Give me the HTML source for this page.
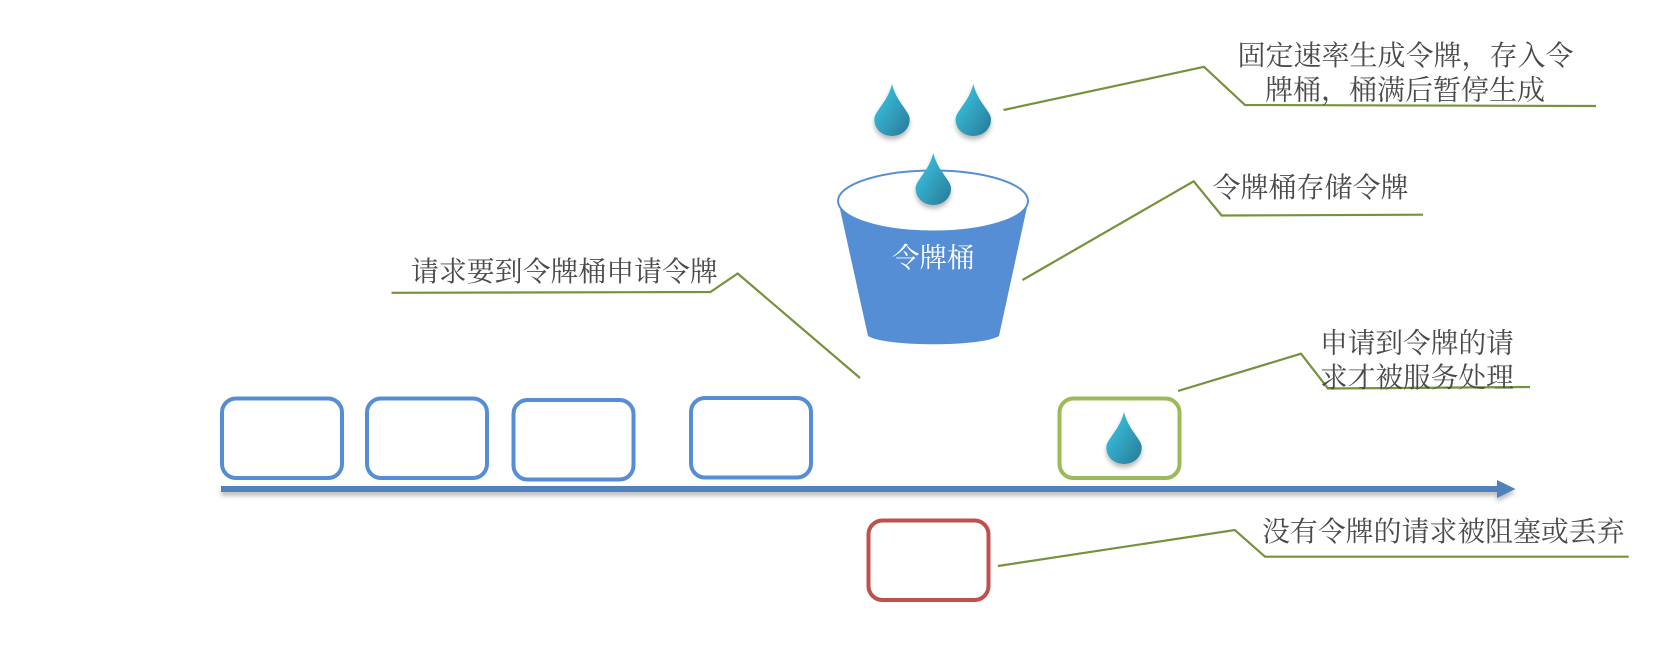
<!DOCTYPE html>
<html>
<head>
<meta charset="utf-8">
<style>
html,body{margin:0;padding:0;background:#fff;width:1672px;height:648px;overflow:hidden}
svg{display:block}
text{font-family:"Liberation Serif","Noto Serif CJK SC",serif;font-size:28px;fill:#4a4a4a}
</style>
</head>
<body>
<svg xmlns="http://www.w3.org/2000/svg" width="1672" height="648" viewBox="0 0 1672 648">
<defs>
<linearGradient id="dg" x1="0.2" y1="0.3" x2="0.9" y2="0.95">
<stop offset="0" stop-color="#37b7d6"/>
<stop offset="1" stop-color="#2a7f9c"/>
</linearGradient>
<filter id="ds" x="-40%" y="-30%" width="180%" height="170%">
<feDropShadow dx="0" dy="3.5" stdDeviation="2.5" flood-color="#000" flood-opacity="0.28"/>
</filter>
<path id="drop" d="M0 0 C3 12 9 19 13 25 C16 29.5 17.7 32 17.7 35.5 C17.7 45 9.8 52 0 52 C-9.8 52 -17.7 45 -17.7 35.5 C-17.7 32 -16 29.5 -13 25 C-9 19 -3 12 0 0 Z"/>
</defs>

<!-- Bucket -->
<path d="M838 200 L868 336 C885 347 982 347 999 336 L1028.5 200 Z" fill="#558ed5"/>
<ellipse cx="933" cy="201" rx="95" ry="30.5" fill="#fff" stroke="#558ed5" stroke-width="2"/>
<text x="892" y="267" style="fill:#fff;font-size:27.5px">令牌桶</text>

<!-- Drops -->
<use href="#drop" x="892" y="84" fill="url(#dg)" filter="url(#ds)"/>
<use href="#drop" x="973.3" y="84" fill="url(#dg)" filter="url(#ds)"/>
<use href="#drop" x="933.3" y="153" fill="url(#dg)" filter="url(#ds)"/>

<!-- Request boxes -->
<g fill="#fff" stroke="#558ed5" stroke-width="4">
<rect x="222" y="398.5" width="120" height="79.5" rx="14"/>
<rect x="367" y="398.5" width="120" height="79.5" rx="14"/>
<rect x="513.5" y="400" width="120" height="79.5" rx="14"/>
<rect x="691" y="398" width="120" height="79.5" rx="14"/>
</g>
<rect x="1059.5" y="398.5" width="120" height="79.5" rx="14" fill="#fff" stroke="#9bbb59" stroke-width="4"/>
<rect x="868.5" y="520.5" width="120" height="79.5" rx="14" fill="#fff" stroke="#c0504d" stroke-width="4"/>

<!-- Drop in green box -->
<use href="#drop" x="1124" y="412" fill="url(#dg)" filter="url(#ds)"/>

<!-- Timeline arrow -->
<g filter="url(#ds)">
<rect x="221" y="486" width="1278" height="6" fill="#4f81bd"/>
<path d="M1497 480 L1515.5 489 L1497 498 Z" fill="#4f81bd"/>
</g>

<!-- Leader lines -->
<g fill="none" stroke="#76923c" stroke-width="2.2">
<polyline points="1003.5,110 1204,66.8 1245,105 1596,106"/>
<polyline points="1022.5,280 1193.7,181.3 1221.6,215.5 1423,214.7"/>
<polyline points="391.5,292.8 710.4,292 737.7,273.5 860,378"/>
<polyline points="1178,391 1301,353.7 1328,388.5 1530,387"/>
<polyline points="998,566 1234.8,530 1265,556.7 1628.7,556.7"/>
</g>

<!-- Labels -->
<text x="1237.5" y="65">固定速率生成令牌，存入令</text>
<text x="1265" y="99.5">牌桶，桶满后暂停生成</text>
<text x="1212.5" y="197">令牌桶存储令牌</text>
<text x="411" y="281" style="font-size:27.9px">请求要到令牌桶申请令牌</text>
<text x="1320" y="352.5" style="font-size:27.7px">申请到令牌的请</text>
<text x="1320" y="387" style="font-size:27.7px">求才被服务处理</text>
<text x="1262" y="541" style="font-size:27.9px">没有令牌的请求被阻塞或丢弃</text>
</svg>
</body>
</html>
